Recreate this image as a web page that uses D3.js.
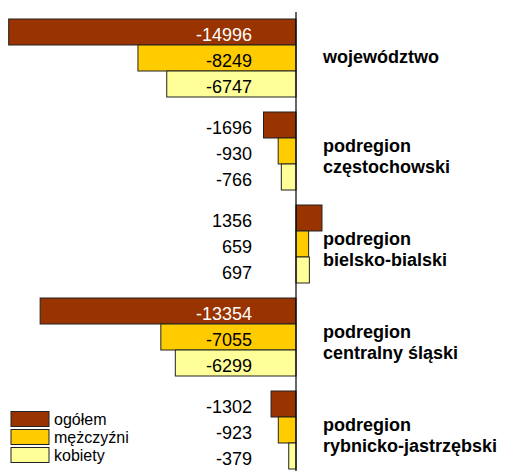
<!DOCTYPE html>
<html><head><meta charset="utf-8">
<script src="https://cdn.jsdelivr.net/npm/d3@7"></script>
<style>body{margin:0;background:#fff}svg{display:block}</style>
</head><body>
<svg id="c" width="505" height="471"></svg>
<script>
const categories = ["województwo", "podregion częstochowski", "podregion bielsko-bialski", "podregion centralny śląski", "podregion rybnicko-jastrzębski"];
const categoryLines = [["województwo"], ["podregion", "częstochowski"], ["podregion", "bielsko-bialski"], ["podregion", "centralny śląski"], ["podregion", "rybnicko-jastrzębski"]];
const seriesNames = ["ogółem", "mężczyźni", "kobiety"];
const ogolem = [-14996, -1696, 1356, -13354, -1302];
const mezczyzni = [-8249, -930, 659, -7055, -923];
const kobiety = [-6747, -766, 697, -6299, -379];
const colors = ["#993300", "#FFCC00", "#FFFF99"];

const seriesValues = [ogolem, mezczyzni, kobiety];
const svg = d3.select("#c");
const font = "'Liberation Sans', Arial, sans-serif";

const x = d3.scaleLinear().domain([-15000, 10000]).range([8.6, 487.6]);
const y = d3.scaleBand().domain(categories).range([19, 469]).paddingInner(15 / 93);
const ys = d3.scaleBand().domain(seriesNames).range([0, y.bandwidth()]);

const data = [];
categories.forEach((c, i) => seriesNames.forEach((s, j) => data.push({c, s, j, v: seriesValues[j][i]})));

svg.selectAll("rect.bar").data(data).join("rect")
  .attr("class", "bar")
  .attr("x", d => x(Math.min(0, d.v)))
  .attr("y", d => y(d.c) + ys(d.s))
  .attr("width", d => Math.abs(x(d.v) - x(0)))
  .attr("height", ys.bandwidth())
  .attr("fill", d => colors[d.j])
  .attr("stroke", "#222")
  .attr("stroke-width", 1);

// axis line
svg.append("line").attr("x1", x(0)).attr("x2", x(0)).attr("y1", 12).attr("y2", 471)
  .attr("stroke", "#000").attr("stroke-width", 1.2);

// value labels
const labelX = 252;
svg.selectAll("text.val").data(data).join("text")
  .attr("class", "val")
  .attr("x", labelX)
  .attr("y", d => y(d.c) + ys(d.s) + ys.bandwidth() / 2 + 3)
  .attr("dy", "0.35em")
  .attr("text-anchor", "end")
  .attr("font-family", font)
  .attr("font-size", 18)
  .attr("fill", d => (d.j === 0 && x(d.v) < labelX - 60) ? "#fff" : "#000")
  .text(d => d.v);

// category labels
categories.forEach((c, i) => {
  const lines = categoryLines[i];
  const cy = y(c) + y.bandwidth() / 2;
  const t = svg.append("text").attr("font-family", font).attr("font-size", 18)
    .attr("font-weight", "bold").attr("fill", "#000");
  if (lines.length === 1) {
    t.append("tspan").attr("x", 323).attr("y", cy + 5).text(lines[0]);
  } else {
    lines.forEach((l, k) => t.append("tspan").attr("x", 323).attr("y", cy + 1 + k * 21).text(l));
  }
});

// legend
const lg = svg.append("g");
seriesNames.forEach((s, j) => {
  const ly = 411.5 + j * 18;
  lg.append("rect").attr("x", 11).attr("y", ly).attr("width", 38).attr("height", 15)
    .attr("fill", colors[j]).attr("stroke", "#222").attr("stroke-width", 1);
  lg.append("text").attr("x", 54).attr("y", ly + 7.5).attr("dy", "0.35em")
    .attr("font-family", font).attr("font-size", 16).attr("fill", "#000").text(s);
});
</script>
</body></html>
